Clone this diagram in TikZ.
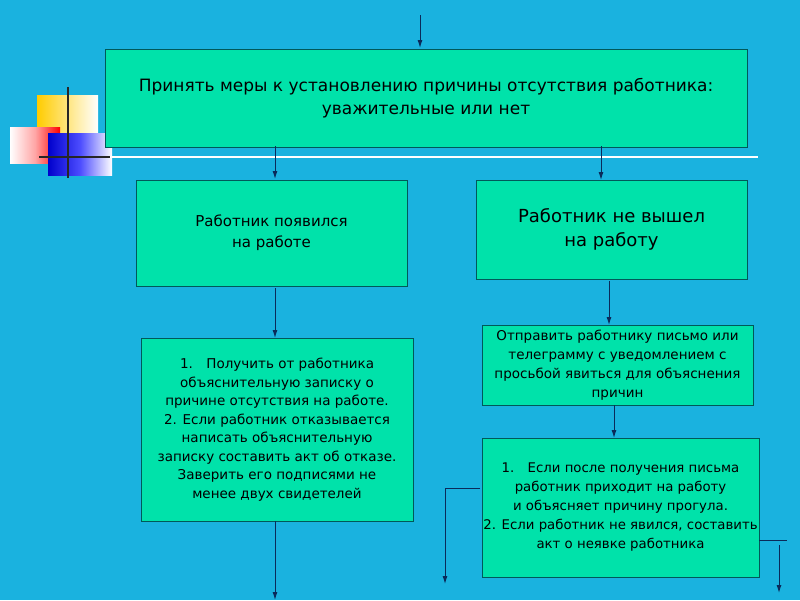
\documentclass[tikz,border=0pt]{standalone}
\usepackage{fontspec}
\setmainfont{DejaVu Sans}
\usetikzlibrary{arrows.meta}
\begin{document}
\begin{tikzpicture}[x=1pt,y=-1pt,
 box/.style={draw=teal!70!black,fill=boxc,line width=0.6pt,align=center,inner sep=0pt},
 arr/.style={draw=navyc,line width=1pt,-{Latex[length=8pt,width=5pt]}},
 ln/.style={draw=navyc,line width=1pt}]
\definecolor{bg}{HTML}{1AB2DF}
\definecolor{boxc}{HTML}{00E2AA}
\definecolor{navyc}{HTML}{0A2A5A}
\definecolor{yel}{HTML}{FFCC00}
\fill[bg] (0,0) rectangle (800,600);
\useasboundingbox (0,0) rectangle (800,600);
% decorations
\shade[left color=yel,right color=white] (37,95) rectangle (98,147);
\shade[left color=white,right color=red,middle color=red!35!white] (10,127) rectangle (60,163);
\shade[left color=blue!80!black,right color=white,middle color=blue!70!white] (48,133) rectangle (112,175);
\draw[white,line width=1.2pt] (60,157) -- (758,157);
\draw[black!85,line width=2pt] (68,87) -- (68,178);
\draw[black!85,line width=2pt] (39,157) -- (110,157);
% boxes
\node[box,minimum width=642,minimum height=98,font=\fontsize{17}{23}\selectfont] (top) at (426,98) {Принять меры к установлению причины отсутствия работника:\\ уважительные или нет};
\node[box,minimum width=271,minimum height=106,font=\fontsize{15}{21}\selectfont] (a) at (271.5,233) {Работник появился\\ на работе};
\node[box,minimum width=271,minimum height=99,font=\fontsize{18}{24}\selectfont] (b) at (611.5,229.5) {Работник не вышел\\ на работу};
\node[box,minimum width=272,minimum height=183,font=\fontsize{13.5}{18.5}\selectfont] (c) at (277,429.5) {1.\quad Получить от работника\\ объяснительную записку о\\ причине отсутствия на работе.\\ 2. Если работник отказывается\\ написать объяснительную\\ записку составить акт об отказе.\\ Заверить его подписями не\\ менее двух свидетелей};
\node[box,minimum width=271,minimum height=80,font=\fontsize{13.5}{19}\selectfont] (d) at (617.5,365) {Отправить работнику письмо или\\ телеграмму с уведомлением с\\ просьбой явиться для объяснения\\ причин};
\node[box,minimum width=277,minimum height=139,font=\fontsize{13.3}{19}\selectfont] (e) at (620.5,507.5) {1.\quad Если после получения письма\\ работник приходит на работу\\ и объясняет причину прогула.\\ 2. Если работник не явился, составить\\ акт о неявке работника};
% connectors
\coordinate (t0) at (420,15);
\draw[arr] (t0) -- (420,48);
\draw[arr] (275,146) -- (275,179);
\draw[arr] (601,146) -- (601,180);
\draw[arr] (275,288) -- (275,338);
\draw[arr] (609,281) -- (609,325);
\draw[arr] (614,405) -- (614,438);
\draw[arr] (275,521) -- (275,600);
\draw[ln] (480,488) -- (445,488);
\draw[arr] (445,488) -- (445,584);
\draw[ln] (759,540) -- (787,540);
\draw[arr] (779,545) -- (779,593);
\end{tikzpicture}
\end{document}
